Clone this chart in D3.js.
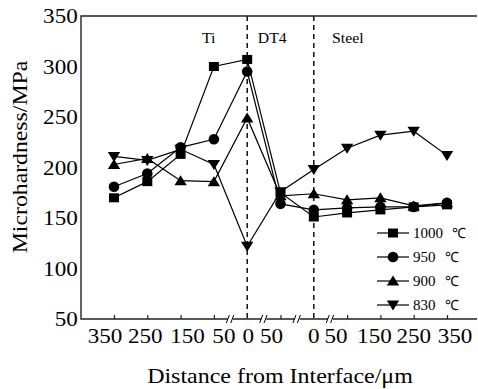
<!DOCTYPE html>
<html>
<head>
<meta charset="utf-8">
<script src="https://cdn.jsdelivr.net/npm/d3@7"></script>
<style>
  body { margin: 0; background: #fff; }
  svg { display: block; }
  svg text { font-family: "Liberation Serif", "Times New Roman", serif; fill: #000; }
</style>
</head>
<body>
<div id="chart"></div>
<script>
/*data*/
const xLabels = ['350', '250', '150', '50', '0', '50', '0', '50', '150', '250', '350'];
const zones = ['Ti', 'DT4', 'Steel'];
const seriesNames = ['1000 ℃', '950 ℃', '900 ℃', '830 ℃'];
const hv1000 = [170, 186, 213, 300, 307, 175, 151, 155, 158, 161, 163];
const hv950 = [181, 194, 220, 228, 295, 164, 158, 160, 161, 161, 165];
const hv900 = [203, 209, 187, 186, 249, 172, 174, 168, 170, 162, 165];
const hv830 = [211, 207, 218, 203, 122, 176, 198, 219, 232, 236, 212];
const yTicks = [50, 100, 150, 200, 250, 300, 350];

/*layout*/
let
  W = 478, H = 389,
  plotLeft = 81, plotRight = 477, plotTop = 16, plotBottom = 319,
  labelShift = [-9, -2, 7, 10, 1, -9, 0, -11, -6, 0, 8],
  zonePos = [2.64, 4.32, 6.55],
  breaks = [3.5, 4.5, 5.5, 6.5],
  interfaces = [4, 6],
  markers = ['square', 'circle', 'up', 'down']
;

const series = [hv1000, hv950, hv900, hv830];

const x = d3.scaleLinear().domain([0, xLabels.length - 1]).range([114, 447]);
const y = d3.scaleLinear().domain([50, 350]).range([plotBottom, plotTop]);

const svg = d3.select('#chart')
  .append('svg')
  .attr('width', W)
  .attr('height', H);

/*marker shapes*/
let markerPath = (type) => {
  if(type === 'square') return 'M-5,-4.5H5V4.5H-5Z';
  if(type === 'circle') return 'M-5.3,0A5.3,5.3 0 1,0 5.3,0A5.3,5.3 0 1,0 -5.3,0Z';
  if(type === 'up') return 'M0,-5.5L6.2,4.5H-6.2Z';
  return 'M0,5.5L6.2,-4.5H-6.2Z';
};

/*interface dashed lines*/
svg.selectAll('.iface')
  .data(interfaces)
  .enter()
  .append('line')
  .attr('x1', d => x(d)).attr('x2', d => x(d))
  .attr('y1', plotTop).attr('y2', plotBottom)
  .attr('stroke', '#000')
  .attr('stroke-width', 1.4)
  .attr('stroke-dasharray', '5,4');

/*frame*/
svg.append('path')
  .attr('d', `M${plotRight},${plotTop}H${plotLeft}V${plotBottom}H${plotRight}`)
  .attr('fill', 'none')
  .attr('stroke', '#222')
  .attr('stroke-width', 1.4);

/*y axis*/
let yAxis = svg.append('g')
  .attr('transform', `translate(${plotLeft},0)`)
  .call(d3.axisLeft(y).tickValues(yTicks).tickSize(0).tickPadding(3));
yAxis.select('.domain').remove();
yAxis.selectAll('text')
  .style('font-size', '21px')
  .attr('transform', 'scale(1.1,1)');

/*x axis ticks*/
let xAxis = svg.append('g')
  .attr('transform', `translate(0,${plotBottom})`)
  .call(d3.axisBottom(x)
    .tickValues(d3.range(xLabels.length).filter(i => interfaces.indexOf(i) < 0))
    .tickSize(-4)
    .tickFormat(''));
xAxis.select('.domain').remove();
xAxis.selectAll('line').attr('stroke', '#222').attr('stroke-width', 1.2);

/*axis breaks*/
let brk = svg.selectAll('.brk')
  .data(breaks)
  .enter()
  .append('g')
  .attr('transform', d => `translate(${x(d)},${plotBottom})`);
brk.append('rect')
  .attr('x', -2.5).attr('y', -2).attr('width', 5).attr('height', 4)
  .attr('fill', '#fff');
brk.selectAll('line')
  .data([-2.2, 2.2])
  .enter()
  .append('line')
  .attr('x1', d => d - 2).attr('y1', 4)
  .attr('x2', d => d + 1).attr('y2', -4)
  .attr('stroke', '#000')
  .attr('stroke-width', 1);

/*x labels*/
svg.selectAll('.xl')
  .data(xLabels)
  .enter()
  .append('text')
  .attr('transform', (d, i) => `translate(${x(i) + labelShift[i]},343) scale(1.1,1)`)
  .attr('text-anchor', 'middle')
  .style('font-size', '21px')
  .text(d => d);

/*axis titles*/
svg.append('text')
  .attr('transform', 'translate(280,383) scale(1.09,1)')
  .attr('text-anchor', 'middle')
  .style('font-size', '22px')
  .text('Distance from Interface/μm');

svg.append('text')
  .attr('transform', 'translate(27,157) rotate(-90) scale(1.08,1)')
  .attr('text-anchor', 'middle')
  .style('font-size', '22px')
  .text('Microhardness/MPa');

/*zone labels*/
svg.selectAll('.zone')
  .data(zones)
  .enter()
  .append('text')
  .attr('transform', (d, i) => `translate(${x(zonePos[i])},43) scale(1.05,1)`)
  .style('font-size', '15px')
  .text(d => d);

/*series*/
let line = d3.line()
  .x((d, i) => x(i))
  .y(d => y(d));

let groups = svg.selectAll('.series')
  .data(series)
  .enter()
  .append('g');

groups.append('path')
  .attr('d', d => line(d))
  .attr('fill', 'none')
  .attr('stroke', '#000')
  .attr('stroke-width', 1.2);

groups.each(function(d, k){
  d3.select(this)
    .selectAll('path.mk')
    .data(d)
    .enter()
    .append('path')
    .attr('class', 'mk')
    .attr('transform', (v, i) => `translate(${x(i)},${y(v)})`)
    .attr('d', markerPath(markers[k]))
    .attr('fill', '#000');
});

/*legend*/
let legend = svg.selectAll('.lg')
  .data(seriesNames)
  .enter()
  .append('g')
  .attr('transform', (d, i) => `translate(0,${233 + i * 24})`);

legend.append('line')
  .attr('x1', 377).attr('x2', 409)
  .attr('stroke', '#000')
  .attr('stroke-width', 1.2);

legend.append('path')
  .attr('transform', 'translate(393,0)')
  .attr('d', (d, i) => markerPath(markers[i]))
  .attr('fill', '#000');

let lt = legend.append('text')
  .attr('x', 413)
  .attr('y', 5)
  .style('font-size', '15px');
lt.append('tspan').text(d => d.split(' ')[0]);
lt.append('tspan')
  .attr('dx', 9)
  .style('font-size', '14px')
  .text(d => d.split(' ')[1]);
</script>
</body>
</html>
